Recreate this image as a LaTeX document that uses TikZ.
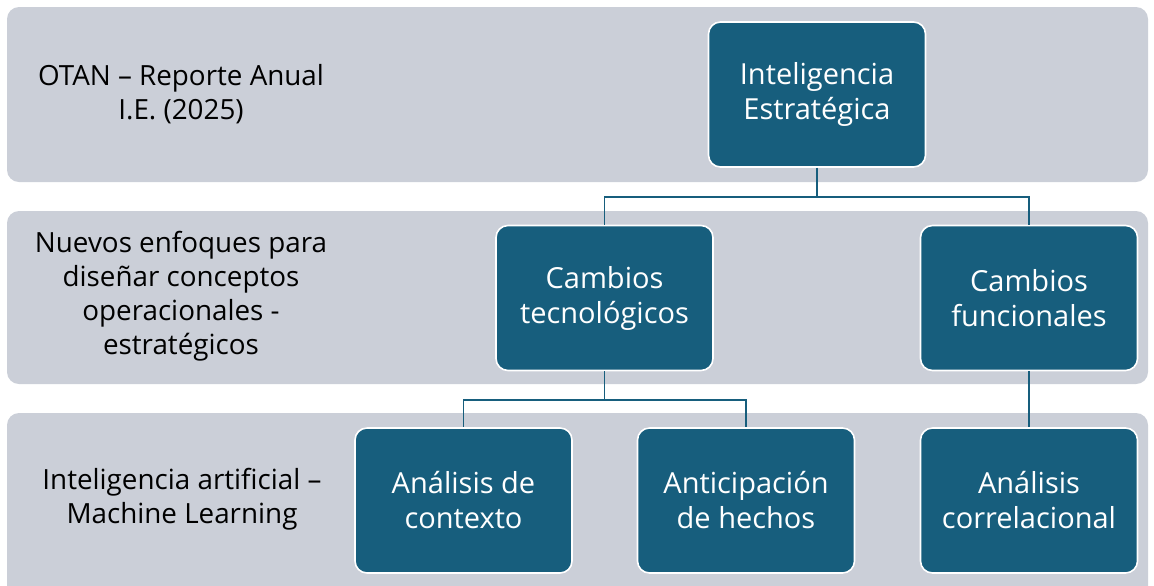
\documentclass[tikz,border=0pt]{standalone}
\usepackage{fontspec}
\setmainfont{Open Sans}
\usetikzlibrary{positioning}
\usetikzlibrary{calc}

\definecolor{boxteal}{RGB}{23,94,125}
\definecolor{bandgray}{RGB}{203,207,216}

\begin{document}
\begin{tikzpicture}
 [ x=0.5pt
 , y=-0.5pt
 , band/.style={fill=bandgray, draw=none, rounded corners=6pt}
 , level/.style={align=center, text=black, font=\fontsize{13.9}{17}\selectfont}
 , unit/.style={rectangle, rounded corners=6pt, fill=boxteal, draw=white, line width=0.8pt,
     text=white, align=center, minimum width=108.5pt, minimum height=72.5pt,
     font=\fontsize{14.5}{17.5}\selectfont}
 , link/.style={draw=boxteal, line width=0.9pt}
 ]
  \useasboundingbox (0,0) rectangle (1154,585);
  % bands
  \fill [band] (7,7) rectangle (1148,182);
  \fill [band] (7,211) rectangle (1148,384);
  \fill [band] (7,413) rectangle (1148,600);
  % level labels
  \node [level] (lvlA) at (181,94) {OTAN -- Reporte Anual\\I.E. (2025)};
  \node [level] (lvlB) at (181,296) {Nuevos enfoques para\\diseñar conceptos\\operacionales -\\estratégicos};
  \node [level] (lvlC) at (182,499) {Inteligencia artificial --\\Machine Learning};
  % chart
  \node [unit] (ie) at (817,94.5) {Inteligencia\\Estratégica};
  \node [unit] (tec) at (604.5,298) {Cambios\\tecnológicos};
  \node [unit] (fun) at (1029,298) {Cambios\\funcionales};
  \node [unit] (ctx) at (463.5,500.5) {Análisis de\\contexto};
  \node [unit] (ant) at (746,500.5) {Anticipación\\de hechos};
  \node [unit] (cor) at (1029,500.5) {Análisis\\correlacional};
  % connectors
  \draw [link] (ie.south) -- ++(0,29) -| (tec.north);
  \draw [link] (ie.south) -- ++(0,29) -| (fun.north);
  \draw [link] (tec.south) -- ++(0,29) -| (ctx.north);
  \draw [link] (tec.south) -- ++(0,29) -| (ant.north);
  \draw [link] (fun.south) -- (cor.north);
\end{tikzpicture}
\end{document}
